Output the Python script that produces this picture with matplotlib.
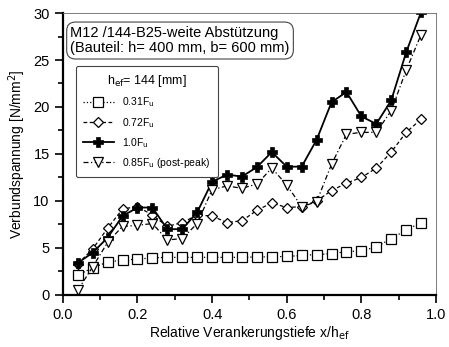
import numpy as np
import matplotlib
matplotlib.use("Agg")
import matplotlib.pyplot as plt

plt.rcParams['font.family'] = ['Liberation Sans', 'DejaVu Sans']

# relative anchorage depth
x_rel = [0.04, 0.08, 0.12, 0.16, 0.20, 0.24, 0.28, 0.32, 0.36, 0.40, 0.44, 0.48,
         0.52, 0.56, 0.60, 0.64, 0.68, 0.72, 0.76, 0.80, 0.84, 0.88, 0.92, 0.96]

# bond stress [N/mm2]
f031 = [2.1, 2.9, 3.5, 3.7, 3.8, 3.95, 4.0, 4.0, 4.0, 4.0, 4.0, 4.0,
        4.05, 4.05, 4.1, 4.2, 4.3, 4.4, 4.6, 4.7, 5.1, 6.0, 6.9, 7.7]
f072 = [3.3, 4.9, 7.1, 9.15, 9.4, 8.5, 7.3, 7.7, 8.5, 8.4, 7.7, 7.9,
        9.0, 9.8, 9.3, 9.4, 10.0, 11.1, 11.9, 12.5, 13.5, 15.2, 17.3, 18.7]
f100 = [3.4, 4.5, 6.1, 8.4, 9.3, 9.3, 7.0, 7.0, 8.8, 12.05, 12.8, 12.6,
        13.6, 15.2, 13.65, 13.65, 16.5, 20.5, 21.6, 19.0, 18.2, 20.7, 25.8, 30.1]
f085 = [0.5, 3.0, 5.6, 7.3, 7.4, 7.6, 5.85, 6.0, 7.6, 11.2, 11.6, 11.35,
        11.8, 13.5, 11.7, 9.4, 9.9, 13.9, 17.1, 17.3, 17.3, 19.6, 23.9, 27.7]

fig = plt.figure(figsize=(4.49, 3.47), dpi=100)
ax = fig.add_axes([0.140, 0.150, 0.831, 0.8125])

ax.plot(x_rel, f031, linestyle=':', color='black', lw=0.9, marker='s', ms=7,
        mfc='white', mec='black', mew=0.9, label=r'0.31F$_{\rm u}$')
ax.plot(x_rel, f072, linestyle=(0, (3, 2)), color='black', lw=0.9, marker='D', ms=5.5,
        mfc='white', mec='black', mew=0.9, label=r'0.72F$_{\rm u}$')
ax.plot(x_rel, f100, linestyle='-', color='black', lw=1.3, marker='P', ms=7,
        mfc='black', mec='black', mew=0.5, label=r'1.0F$_{\rm u}$')
ax.plot(x_rel, f085, linestyle=(0, (4, 2, 1, 2)), color='black', lw=0.9, marker='v', ms=7,
        mfc='white', mec='black', mew=0.9,
        label=r'0.85F$_{\rm u}$ $\mathregular{(post\text{-}peak)}$')

ax.set_xlim(0, 1.0)
ax.set_ylim(0, 30)
ax.set_xticks(np.arange(0, 1.01, 0.2))
ax.set_xticks(np.arange(0, 1.01, 0.1), minor=True)
ax.set_yticks(np.arange(0, 31, 5))
ax.set_yticks(np.arange(0, 31, 2.5), minor=True)
ax.xaxis.set_major_formatter(matplotlib.ticker.FormatStrFormatter('%.1f'))
ax.tick_params(which='both', direction='out', width=1.2, labelsize=10.5)
ax.tick_params(which='major', length=6)
ax.tick_params(which='minor', length=3.5)
ax.tick_params(top=False, right=False)

for s in ['left', 'bottom']:
    ax.spines[s].set_linewidth(1.6)
for s in ['top', 'right']:
    ax.spines[s].set_linewidth(0.6)
    ax.spines[s].set_color('#666666')

ax.set_xlabel(r'Relative Verankerungstiefe x/h$_{\rm ef}$', fontsize=10, labelpad=1)
ax.set_ylabel(r'Verbundspannung [N/mm$^2$]', fontsize=10, labelpad=4)

ax.text(0.02, 0.955, 'M12 /144-B25-weite Abstützung\n(Bauteil: h= 400 mm, b= 600 mm)',
        transform=ax.transAxes, fontsize=10.5, va='top', ha='left', linespacing=1.15,
        bbox=dict(boxstyle='round,pad=0.25,rounding_size=0.6', fc='white', ec='#444444', lw=0.8))

leg = ax.legend(loc='upper left', bbox_to_anchor=(0.02, 0.83), fontsize=7.5,
                title=r'h$_{\rm ef}$= 144 [mm]', title_fontsize=9, frameon=True,
                fancybox=True, edgecolor='#444444', framealpha=1, handlelength=3,
                labelspacing=0.6, borderpad=0.7)
leg.get_frame().set_linewidth(0.8)

fig.savefig('out.png', dpi=100)
